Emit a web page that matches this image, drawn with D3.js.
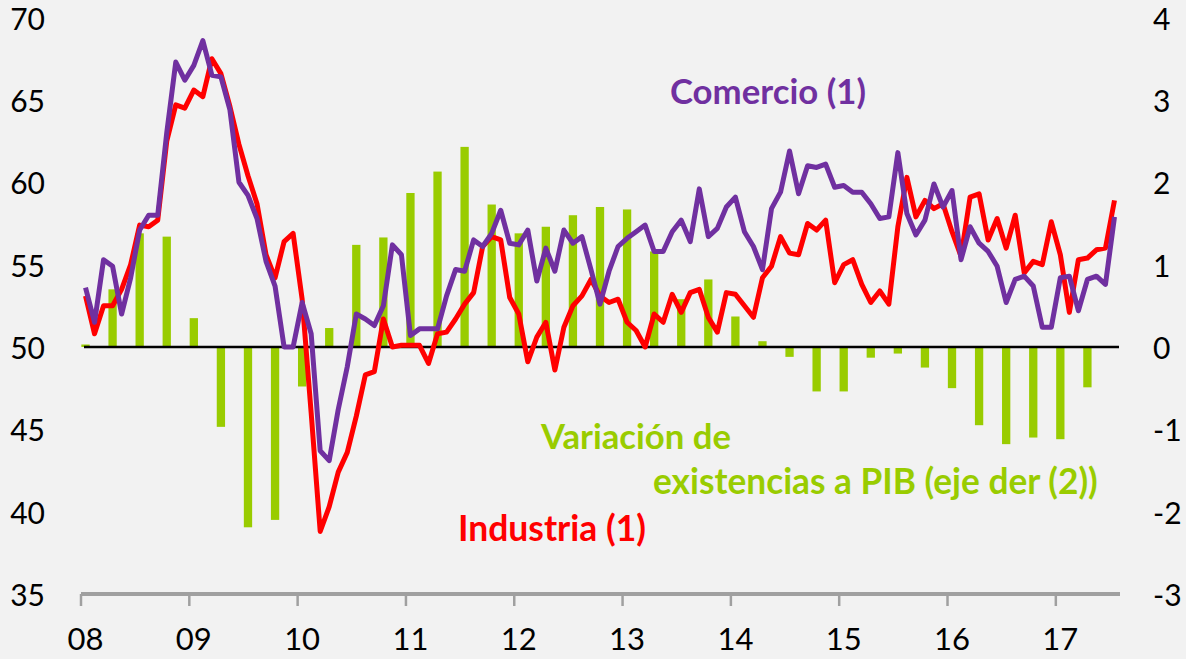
<!DOCTYPE html>
<html>
<head>
<meta charset="utf-8">
<script src="https://cdn.jsdelivr.net/npm/d3@7/dist/d3.min.js"></script>
<style>
  html, body { margin: 0; padding: 0; background: #F2F2F2; }
  svg { display: block; }
</style>
</head>
<body>
<svg id="chart" width="1186" height="659"></svg>
<script>
// Monthly indicators, January 2008 to July 2017
const industria = [
  53.1, 50.8, 52.5, 52.5, 53.5, 55.0, 57.4, 57.3, 57.7, 62.5, 64.7, 64.5,
  65.6, 65.2, 67.5, 66.6, 64.6, 62.3, 60.4, 58.7, 55.6, 54.2, 56.4, 56.9,
  52.9, 46.0, 38.8, 40.3, 42.4, 43.6, 45.8, 48.3, 48.5, 51.7, 50.0, 50.1,
  50.1, 50.1, 49.0, 50.8, 50.9, 51.7, 52.6, 53.3, 56.1, 56.7, 56.5, 53.0,
  52.0, 49.1, 50.6, 51.5, 48.6, 51.2, 52.5, 53.1, 54.1, 53.1, 52.7, 52.9,
  51.5, 51.0, 50.0, 52.0, 51.5, 53.2, 52.1, 53.3, 53.5, 51.8, 50.9, 53.3,
  53.2, 52.5, 51.8, 54.2, 54.9, 56.7, 55.7, 55.6, 57.5, 57.1, 57.7, 53.9,
  55.0, 55.3, 53.8, 52.7, 53.4, 52.6, 57.3, 60.3, 57.9, 58.9, 58.4, 58.7,
  57.0, 55.5, 59.1, 59.3, 56.5, 57.8, 56.0, 58.0, 54.5, 55.2, 55.0, 57.6,
  55.6, 52.1, 55.3, 55.4, 55.9, 56.0, 58.9
];
const comercio = [
  53.6, 51.5, 55.3, 54.9, 52.0, 54.2, 57.1, 58.0, 58.0, 63.0, 67.3, 66.2,
  67.1, 68.6, 66.5, 66.4, 64.4, 60.0, 59.2, 57.8, 55.2, 53.7, 50.0, 50.0,
  52.7, 50.8, 43.7, 43.1, 46.2, 48.8, 52.0, 51.7, 51.3, 52.5, 56.2, 55.6,
  50.7, 51.1, 51.1, 51.1, 53.1, 54.7, 54.6, 56.5, 56.1, 56.9, 58.3, 56.3,
  56.2, 57.1, 54.0, 56.0, 54.6, 57.1, 56.3, 56.7, 54.7, 52.6, 54.6, 56.1,
  56.6, 57.0, 57.4, 55.8, 55.8, 57.0, 57.7, 56.4, 59.6, 56.7, 57.2, 58.5,
  59.1, 57.0, 56.1, 54.7, 58.4, 59.4, 61.9, 59.3, 61.0, 60.9, 61.1, 59.7,
  59.8, 59.4, 59.4, 58.7, 57.8, 57.9, 61.8, 58.1, 56.8, 57.7, 59.9, 58.5,
  59.5, 55.3, 57.3, 56.3, 55.8, 54.9, 52.7, 54.1, 54.3, 53.7, 51.2, 51.2,
  54.2, 54.3, 52.2, 54.1, 54.3, 53.8, 57.9
];
// Quarterly inventory change over GDP (right axis), 2008Q1 to 2017Q2
const existencias = [
  0.03, 0.70, 1.38, 1.34, 0.35, -0.97, -2.19, -2.10, -0.48, 0.23,
  1.24, 1.33, 1.87, 2.13, 2.43, 1.73, 1.38, 1.46, 1.60, 1.70,
  1.67, 1.16, 0.58, 0.82, 0.37, 0.07, -0.12, -0.54, -0.54, -0.13,
  -0.08, -0.25, -0.50, -0.95, -1.18, -1.10, -1.12, -0.49
];
const yearLabels = ["08", "09", "10", "11", "12", "13", "14", "15", "16", "17"];
const leftTicks = [35, 40, 45, 50, 55, 60, 65, 70];
const rightTicks = [-3, -2, -1, 0, 1, 2, 3, 4];

const months = d3.range(industria.length);

const svg = d3.select("#chart");
const fontFamily = "Lato, 'Open Sans', sans-serif";

const x = d3.scaleBand().domain(months).range([81, 1119]).padding(0);
const cx = i => x(i) + x.bandwidth() / 2;
const yL = d3.scaleLinear().domain([35, 70]).range([594, 17.6]);
const yR = d3.scaleLinear().domain([-3, 4]).range([594, 17.6]);

// Bars: inventory change, placed on the first month of each quarter
const barW = x.bandwidth() * 0.92;
svg.append("g").selectAll("rect")
  .data(existencias)
  .join("rect")
  .attr("x", (d, k) => cx(3 * k) - barW / 2)
  .attr("y", d => Math.min(yR(d), yR(0)))
  .attr("width", barW)
  .attr("height", d => Math.abs(yR(d) - yR(0)))
  .attr("fill", "#99CC00");

// Zero line
svg.append("line")
  .attr("x1", 84).attr("x2", 1119)
  .attr("y1", yR(0)).attr("y2", yR(0))
  .attr("stroke", "#000").attr("stroke-width", 2.5);

// Lines
const line = d3.line().x((d, i) => cx(i));
svg.append("path")
  .attr("d", line.y(d => yL(d))(industria))
  .attr("fill", "none").attr("stroke", "#FF0000")
  .attr("stroke-width", 5).attr("stroke-linejoin", "round");
svg.append("path")
  .attr("d", line.y(d => yL(d))(comercio))
  .attr("fill", "none").attr("stroke", "#7030A0")
  .attr("stroke-width", 5).attr("stroke-linejoin", "round");

// Bottom axis: ticks on year boundaries, labels on January of each year
const axisY = 594;
svg.append("line")
  .attr("x1", 81).attr("x2", 1120)
  .attr("y1", axisY).attr("y2", axisY)
  .attr("stroke", "#A0A0A0").attr("stroke-width", 4);
svg.append("g").selectAll("line")
  .data(yearLabels)
  .join("line")
  .attr("x1", (d, k) => x(12 * k)).attr("x2", (d, k) => x(12 * k))
  .attr("y1", axisY).attr("y2", axisY + 12)
  .attr("stroke", "#A0A0A0").attr("stroke-width", 2.5);
svg.append("g").selectAll("text")
  .data(yearLabels)
  .join("text")
  .attr("x", (d, k) => cx(12 * k))
  .attr("y", 650)
  .attr("text-anchor", "middle")
  .attr("font-family", fontFamily).attr("font-size", 31)
  .attr("fill", "#000")
  .text(d => d);

// Left axis labels
svg.append("g").selectAll("text")
  .data(leftTicks)
  .join("text")
  .attr("x", 45)
  .attr("y", d => yL(d))
  .attr("dy", "0.4em")
  .attr("text-anchor", "end")
  .attr("font-family", fontFamily).attr("font-size", 30)
  .attr("fill", "#000")
  .text(d => d);

// Right axis labels
svg.append("g").selectAll("text")
  .data(rightTicks)
  .join("text")
  .attr("x", 1153)
  .attr("y", d => yR(d))
  .attr("dy", "0.4em")
  .attr("text-anchor", "start")
  .attr("font-family", fontFamily).attr("font-size", 30)
  .attr("fill", "#000")
  .text(d => d);

// Series annotations
const notes = [
  { text: "Comercio (1)", x: 670, y: 104, w: 196, color: "#7030A0" },
  { text: "Variación de", x: 541, y: 449, w: 190, color: "#99CC00" },
  { text: "existencias a PIB (eje der (2))", x: 653, y: 494, w: 445, color: "#99CC00" },
  { text: "Industria (1)", x: 458, y: 541, w: 188, color: "#FF0000" }
];
notes.forEach(n => {
  const t = svg.append("text")
    .attr("x", n.x).attr("y", n.y)
    .attr("font-family", fontFamily).attr("font-weight", "bold")
    .attr("font-size", 30)
    .attr("fill", n.color)
    .text(n.text);
  const len = t.node().getComputedTextLength();
  t.attr("font-size", 30 * n.w / len);
});
</script>
</body>
</html>
